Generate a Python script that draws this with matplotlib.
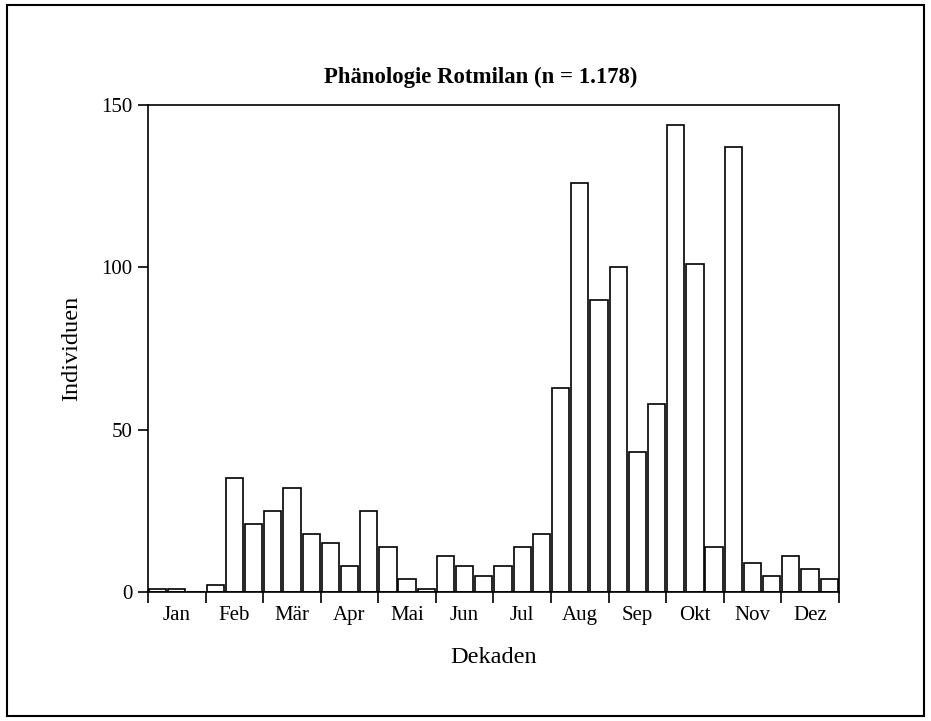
import matplotlib
matplotlib.use("Agg")
import matplotlib.pyplot as plt
import numpy as np
from matplotlib.patches import Rectangle

plt.rcParams['font.family'] = ['Liberation Serif', 'DejaVu Serif']

# Daten: Individuen pro Dekade (3 Dekaden je Monat)
months = ['Jan', 'Feb', 'Mär', 'Apr', 'Mai', 'Jun',
          'Jul', 'Aug', 'Sep', 'Okt', 'Nov', 'Dez']
individuen = [1, 1, 0,
              2, 35, 21,
              25, 32, 18,
              15, 8, 25,
              14, 4, 1,
              11, 8, 5,
              8, 14, 18,
              63, 126, 90,
              100, 43, 58,
              144, 101, 14,
              137, 9, 5,
              11, 7, 4]
y_ticks = [0, 50, 100, 150]

fig = plt.figure(figsize=(9.31, 7.21), dpi=100)
ax = fig.add_axes([0.159, 0.179, 0.742, 0.675])

x = np.arange(len(individuen))
ax.bar(x, individuen, width=0.9, color='white', edgecolor='black', linewidth=1.2)

ax.set_xlim(-0.5, len(individuen) - 0.5)
ax.set_ylim(0, 150)
ax.set_yticks(y_ticks)

# Monatsgrenzen als Ticks, Monatsnamen in der Mitte
ax.set_xticks(np.arange(-0.5, len(individuen), 3))
ax.set_xticklabels([])
ax.set_xticks(np.arange(1, len(individuen), 3), minor=True)
ax.set_xticklabels(months, minor=True)
ax.tick_params(axis='x', which='major', direction='out', length=8, width=1.2)
ax.tick_params(axis='x', which='minor', length=0, pad=10, labelsize=15)
ax.tick_params(axis='y', direction='out', length=7, width=1.2, labelsize=15, pad=4)

for s in ax.spines.values():
    s.set_linewidth(1.2)

ax.set_title('Phänologie Rotmilan (n = 1.178)', fontsize=16.4, fontweight='bold',
             pad=16, x=0.481)
ax.set_xlabel('Dekaden', fontsize=17.5, labelpad=16)
ax.set_ylabel('Individuen', fontsize=17.5, labelpad=14)

# Rahmen um die ganze Grafik
fig.patches.append(Rectangle((0.008, 0.007), 0.985, 0.986, transform=fig.transFigure,
                             fill=False, edgecolor='black', linewidth=1.5))

fig.savefig('out.png', dpi=100)
